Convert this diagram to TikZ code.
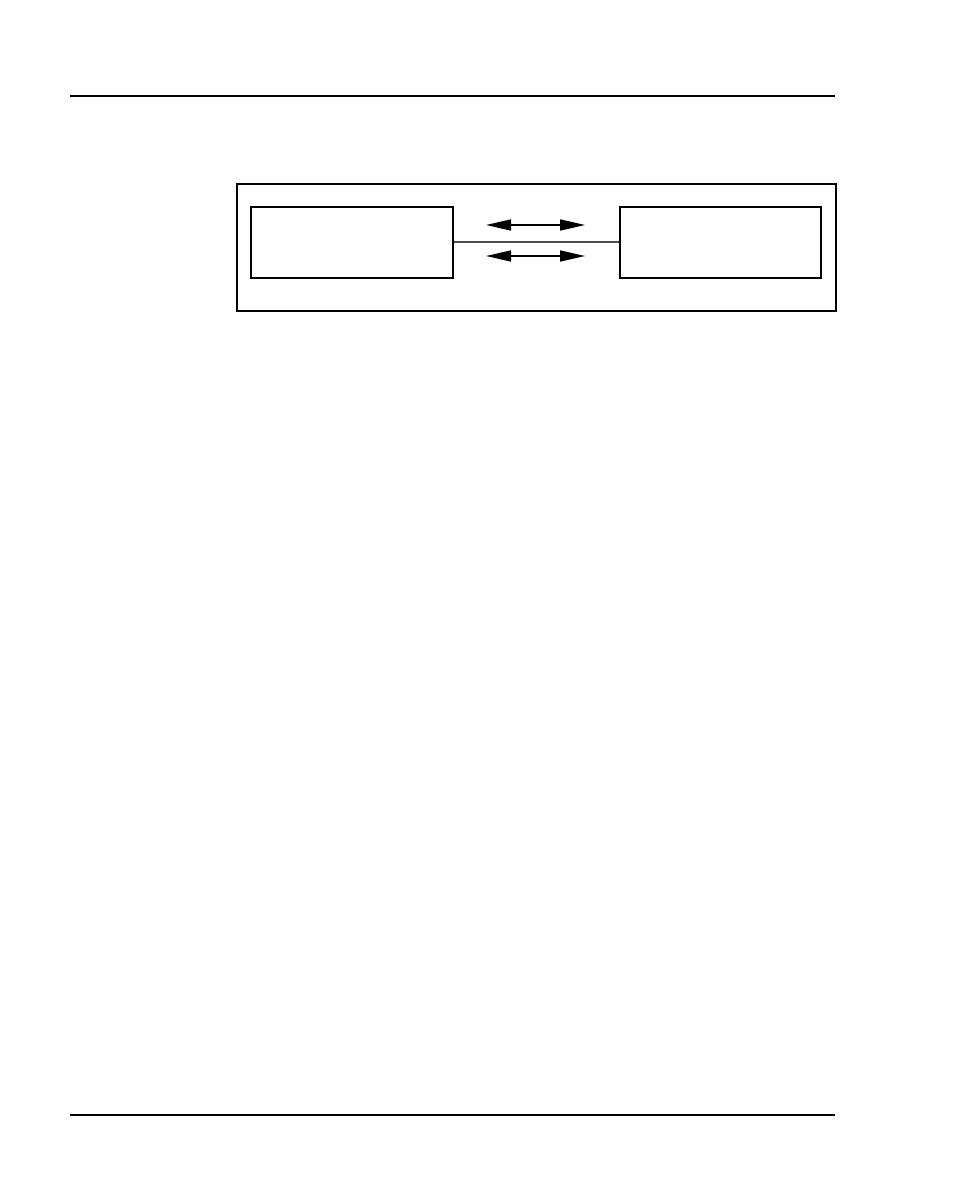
\documentclass[tikz,border=0pt]{standalone}
\usetikzlibrary{arrows.meta}
\begin{document}
\begin{tikzpicture}[x=1pt,y=-1pt,
  rulestyle/.style={line width=1.8pt,black},
  boxstyle/.style={draw,line width=2pt,inner sep=0pt,anchor=north west},
  dblarrow/.style={line width=1.6pt,{Triangle[length=25pt,width=11pt]}-{Triangle[length=25pt,width=11pt]}},
  linkstyle/.style={line width=1.5pt,black!70}]
\useasboundingbox (0,0) rectangle (954,1201);
\coordinate (h1) at (70,96); \coordinate (h2) at (835,96);
\coordinate (f1) at (70,1115); \coordinate (f2) at (835,1115);
\draw[rulestyle] (h1) -- (h2);
\draw[rulestyle] (f1) -- (f2);
\node[boxstyle,minimum width=599pt,minimum height=126pt] (outer) at (236,183.5) {};
\node[boxstyle,minimum width=202pt,minimum height=71pt] (left) at (250,205.5) {};
\node[boxstyle,minimum width=201pt,minimum height=71pt] (right) at (618.5,205.5) {};
\draw[linkstyle] (left.east) -- (right.west);
\coordinate (a1) at (486,225); \coordinate (a2) at (585,225);
\coordinate (b1) at (486,256); \coordinate (b2) at (585,256);
\draw[dblarrow] (a1) -- (a2);
\draw[dblarrow] (b1) -- (b2);
\end{tikzpicture}
\end{document}
